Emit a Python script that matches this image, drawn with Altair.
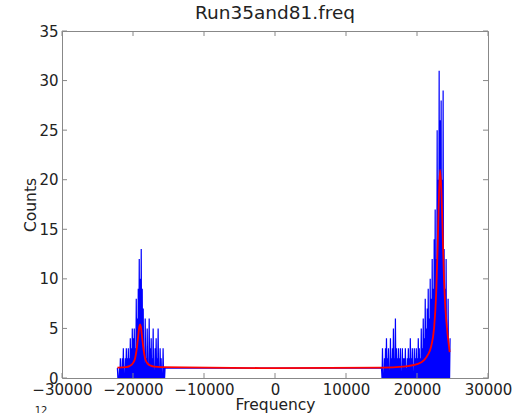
import altair as alt
import pandas as pd

# ---- data (fine bins, 70 Hz apart) ----
left_start = -22200
right_start = 15000
bin_step = 70

left_counts = [1, 0, 0, 0, 1, 0, 2, 0, 1, 0,
               2, 0, 3, 0, 0, 0, 2, 0, 3, 0,
               2, 0, 3, 0, 2, 0, 4, 0, 3, 0,
               5, 0, 4, 0, 5, 0, 3, 0, 8, 0,
               6, 0, 9, 0, 12, 0, 10, 0, 13, 0,
               9, 0, 7, 0, 0, 0, 6, 0, 2, 0,
               5, 0, 1, 0, 6, 0, 3, 0, 4, 0,
               2, 0, 5, 0, 0, 0, 3, 0, 4, 0,
               2, 0, 5, 0, 1, 0, 3, 0, 2, 0,
               0, 0, 3, 0, 1, 0, 1]

right_counts = [1, 0, 3, 0, 0, 0, 2, 0, 3, 0,
                4, 0, 2, 0, 3, 0, 0, 0, 4, 0,
                2, 0, 3, 0, 5, 0, 2, 0, 6, 0,
                3, 0, 2, 0, 3, 0, 2, 0, 3, 0,
                0, 0, 3, 0, 2, 0, 2, 0, 3, 0,
                1, 0, 2, 0, 3, 0, 2, 0, 4, 0,
                2, 0, 3, 0, 0, 0, 3, 0, 2, 0,
                3, 0, 2, 0, 4, 0, 3, 0, 2, 0,
                5, 0, 3, 0, 6, 0, 4, 0, 8, 0,
                5, 0, 7, 0, 9, 0, 6, 0, 10, 0,
                8, 0, 12, 0, 9, 0, 14, 0, 17, 0,
                12, 0, 25, 0, 20, 0, 31, 0, 26, 0,
                28, 0, 20, 0, 29, 0, 13, 0, 9, 0,
                12, 0, 5, 0, 8, 0, 3, 0, 4]

fit_freq = [-22200, -21000, -20500, -20000, -19700, -19500, -19300, -19100, -19000,
            -18900, -18700, -18500, -18300, -18000, -17500, -17000, -16000, 0,
            15000, 18000, 20000, 21000, 21500, 22000, 22400, 22700, 22900, 23100,
            23250, 23400, 23600, 23800, 24000, 24300, 24600]
fit_counts = [1.05, 1.1, 1.2, 1.5, 2.0, 2.8, 4.0, 5.2, 5.4,
              5.2, 4.0, 2.8, 2.0, 1.5, 1.25, 1.15, 1.1, 1.0,
              1.05, 1.15, 1.4, 1.8, 2.3, 3.2, 5.0, 8.5, 13.0, 18.5,
              21.0, 19.5, 15.0, 10.0, 7.0, 4.5, 2.6]

x_ticks = [-30000, -20000, -10000, 0, 10000, 20000, 30000]
y_ticks = [0, 5, 10, 15, 20, 25, 30, 35]

# ---- build tables ----
freqs = [left_start + i * bin_step for i in range(len(left_counts))] + \
        [right_start + i * bin_step for i in range(len(right_counts))]
counts = left_counts + right_counts
hist_df = pd.DataFrame({"f": freqs, "c": counts})
fit_df = pd.DataFrame({"f": fit_freq, "c": fit_counts})
xt_df = pd.DataFrame({"x": x_ticks})
yt_df = pd.DataFrame({"y": y_ticks})

W, H = 426, 347
FONT = "DejaVu Sans"
xs = alt.Scale(domain=[-30000, 30000], nice=False, zero=False)
ys = alt.Scale(domain=[0, 35], nice=False)

x_axis = alt.Axis(values=x_ticks, format="d", ticks=False, domain=False, grid=False,
                  labelFontSize=15, labelColor="#222222", labelPadding=4,
                  labelFlush=False, labelOverlap=False, labelBound=False,
                  title="Frequency", titleFontSize=15.5, titleFontWeight="normal",
                  titleColor="#222222", titlePadding=0)
y_axis = alt.Axis(values=y_ticks, ticks=False, domain=False, grid=False,
                  labelFontSize=15, labelColor="#222222", labelPadding=4,
                  labelFlush=False, labelOverlap=False, labelBound=False,
                  title="Counts", titleFontSize=15.5, titleFontWeight="normal",
                  titleColor="#222222", titlePadding=0)

hist = alt.Chart(hist_df).mark_line(color="#0000ff", strokeWidth=1.2, clip=True).encode(
    x=alt.X("f:Q", scale=xs, axis=x_axis),
    y=alt.Y("c:Q", scale=ys, axis=y_axis),
    order="f:Q",
)
fit = alt.Chart(fit_df).mark_line(color="#ff0000", strokeWidth=1.8, clip=True, interpolate="monotone").encode(
    x=alt.X("f:Q", scale=xs),
    y=alt.Y("c:Q", scale=ys),
)

tick_col = "#888888"
xb = alt.Chart(xt_df).mark_rule(color=tick_col).encode(
    x=alt.X("x:Q", scale=xs), y=alt.value(H), y2=alt.value(H - 5))
xtop = alt.Chart(xt_df).mark_rule(color=tick_col).encode(
    x=alt.X("x:Q", scale=xs), y=alt.value(0), y2=alt.value(5))
yl = alt.Chart(yt_df).mark_rule(color=tick_col).encode(
    y=alt.Y("y:Q", scale=ys), x=alt.value(0), x2=alt.value(5))
yr = alt.Chart(yt_df).mark_rule(color=tick_col).encode(
    y=alt.Y("y:Q", scale=ys), x=alt.value(W), x2=alt.value(W - 5))

offset_txt = alt.Chart(pd.DataFrame({"t": ["12"]})).mark_text(
    font=FONT, fontSize=10, color="#222222", align="center", baseline="top").encode(
    text="t:N", x=alt.value(-21), y=alt.value(375))

chart = alt.layer(hist, fit, xb, xtop, yl, yr, offset_txt).properties(
    width=W, height=H,
    title=alt.TitleParams("Run35and81.freq", fontSize=18.5, fontWeight="normal",
                          font=FONT, color="#222222", offset=2),
    padding={"left": 62, "top": 31, "right": 37, "bottom": 35},
    autosize="none",
).configure(font=FONT).configure_view(stroke="#888888", strokeWidth=1)

chart.save("out.html", embed_options={"renderer": "svg", "actions": False})
